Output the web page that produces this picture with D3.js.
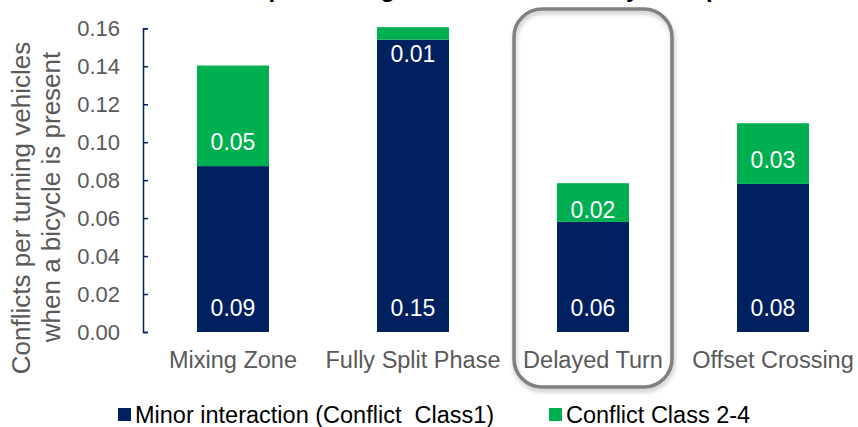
<!DOCTYPE html>
<html>
<head>
<meta charset="utf-8">
<script src="https://cdn.jsdelivr.net/npm/d3@7.9.0/dist/d3.min.js"></script>
<style>
  body { margin: 0; background: #fff; }
  svg { display: block; font-family: "Liberation Sans", Arial, sans-serif; }
  .legend text { white-space: pre; }
</style>
</head>
<body>
<svg width="858" height="427"></svg>
<script>
// chart data
const categories = ['Mixing Zone', 'Fully Split Phase', 'Delayed Turn', 'Offset Crossing'];
const minorValues = [0.0874, 0.154, 0.058, 0.078];
const classValues = [0.053, 0.0066, 0.0204, 0.032];
const minorLabels = ['0.09', '0.15', '0.06', '0.08'];
const classLabels = ['0.05', '0.01', '0.02', '0.03'];
const yTicks = [0, 0.02, 0.04, 0.06, 0.08, 0.10, 0.12, 0.14, 0.16];
const seriesNames = ['Minor interaction (Conflict  Class1)', 'Conflict Class 2-4'];
const highlighted = 'Delayed Turn';

const blue = '#002060', green = '#00B050', gray = '#595959';
const font = '"Liberation Sans", Arial, sans-serif';

const svg = d3.select('svg');

let x = d3.scaleBand().domain(categories).range([143, 863]).paddingInner(0.6).paddingOuter(0.3);
let y = d3.scaleLinear().domain([0, 0.16]).range([332, 28.3]);

// shadow for highlight box
const defs = svg.append('defs');
const f = defs.append('filter').attr('id', 'sh').attr('x', '-10%').attr('y', '-10%').attr('width', '130%').attr('height', '130%');
f.append('feDropShadow').attr('dx', 1).attr('dy', 3).attr('stdDeviation', 2).attr('flood-color', '#000').attr('flood-opacity', 0.25);

// title (mostly cut off at the top of the picture)
svg.append('text')
  .attr('x', 476).attr('y', -3)
  .attr('text-anchor', 'middle')
  .attr('font-size', 24).attr('font-weight', 'bold').attr('fill', '#000')
  .text('Conflicts per turning vehicles when a bicycle is present');

// stacked bars
let stacked = categories.map((c, i) => ({ cat: c, minor: minorValues[i], cls: classValues[i], i: i }));

stacked.forEach(d => {
  svg.append('rect')
    .attr('x', x(d.cat)).attr('width', x.bandwidth())
    .attr('y', y(d.minor)).attr('height', y(0) - y(d.minor))
    .attr('fill', blue);
  svg.append('rect')
    .attr('x', x(d.cat)).attr('width', x.bandwidth())
    .attr('y', y(d.minor + d.cls)).attr('height', y(d.minor) - y(d.minor + d.cls))
    .attr('fill', green);
});

// value labels (inside base, pushed down when the segment is too thin)
function labelY(lo, hi) {
  return Math.max(y(lo) - 16, y(hi) + 35);
}
stacked.forEach(d => {
  const cx = x(d.cat) + x.bandwidth() / 2;
  svg.append('text')
    .attr('x', cx).attr('y', labelY(0, d.minor))
    .attr('text-anchor', 'middle').attr('font-size', 23).attr('fill', '#fff')
    .text(minorLabels[d.i]);
  svg.append('text')
    .attr('x', cx).attr('y', labelY(d.minor, d.minor + d.cls))
    .attr('text-anchor', 'middle').attr('font-size', 23).attr('fill', '#fff')
    .text(classLabels[d.i]);
});

// y axis
let yAxis = d3.axisLeft(y).tickValues(yTicks).tickSize(-5).tickPadding(23)
  .tickFormat(d3.format('.2f'));
let ga = svg.append('g').attr('transform', 'translate(143,0)').call(yAxis);
ga.select('.domain').attr('stroke', blue).attr('stroke-width', 1.5);
ga.selectAll('.tick line').attr('stroke', blue).attr('stroke-width', 1.5);
ga.selectAll('.tick text').attr('font-size', 22).attr('fill', gray).attr('font-family', font);

// category labels
let xAxis = d3.axisBottom(x).tickSize(0).tickPadding(0);
let gx = svg.append('g').attr('transform', 'translate(0,332)').call(xAxis);
gx.select('.domain').remove();
gx.selectAll('.tick text').attr('font-size', 23.5).attr('fill', gray).attr('dy', 0).attr('y', 36)
  .attr('font-family', font);

// y axis title, two lines
const yt = svg.append('text')
  .attr('transform', 'translate(0,203) rotate(-90)')
  .attr('text-anchor', 'middle').attr('font-size', 26).attr('fill', gray);
yt.append('tspan').attr('x', -5).attr('y', 30).text('Conflicts per turning vehicles');
yt.append('tspan').attr('x', 6).attr('y', 60).text('when a bicycle is present');

// highlight box round the chosen category
const hx = x(highlighted) + x.bandwidth() / 2;
svg.append('rect')
  .attr('x', hx - 79).attr('y', 9).attr('width', 158).attr('height', 378)
  .attr('rx', 28).attr('ry', 28)
  .attr('fill', 'none').attr('stroke', '#808080').attr('stroke-width', 3.5)
  .attr('filter', 'url(#sh)');

// legend
const legendX = [118, 549];
const legendColors = [blue, green];
const legend = svg.append('g').attr('class', 'legend');
seriesNames.forEach((name, i) => {
  const g = legend.append('g').attr('transform', `translate(${legendX[i]},408)`);
  g.append('rect').attr('width', 13).attr('height', 13).attr('fill', legendColors[i]);
  g.append('text').attr('x', 17).attr('y', 15).attr('font-size', 23.5).attr('fill', '#000').text(name);
});
</script>
</body>
</html>
